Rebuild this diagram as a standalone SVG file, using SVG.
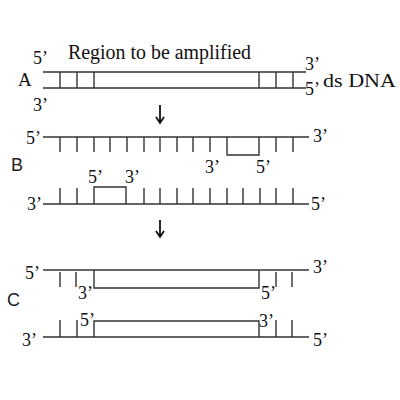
<svg xmlns="http://www.w3.org/2000/svg" width="400" height="400" viewBox="0 0 400 400">
<defs>
<style>
.s{stroke:#333;stroke-width:1.4;fill:none}
.t{font-family:"Liberation Serif",serif;font-size:18px;fill:#111}
.l{font-family:"Liberation Sans",sans-serif;font-size:18px;fill:#222}
.a{stroke:#111;stroke-width:1.8;fill:none}
</style>
</defs>
<rect width="400" height="400" fill="#fff"/>

<g id="sectionA">
<text class="t" x="68" y="59" textLength="183" lengthAdjust="spacingAndGlyphs" style="font-size:20px">Region to be amplified</text>
<text class="t" x="18" y="86" style="font-size:19px">A</text>
<text class="t" x="33" y="64">5’</text>
<text class="t" x="33" y="111">3’</text>
<text class="t" x="305" y="70">3’</text>
<text class="t" x="305" y="95">5’</text>
<text class="t" x="323" y="87" textLength="73" lengthAdjust="spacingAndGlyphs" style="font-size:19px">ds DNA</text>
<path class="s" d="M43,72H306M43,88H306M60,72V88M77,72V88M94,72V88M259,72V88M276,72V88M293,72V88"/>
</g>

<g id="sectionB">
<text class="l" x="11" y="171">B</text>
<text class="t" x="26" y="144">5’</text>
<text class="t" x="313" y="142">3’</text>
<text class="t" x="205" y="173">3’</text>
<text class="t" x="256" y="173">5’</text>
<path class="s" d="M43,137H309M60,137V152M77,137V152M94,137V152M110,137V152M127,137V152M144,137V152M160,137V152M177,137V152M193,137V152M210,137V152M276,137V152M293,137V152M227,137V155H259V137"/>
<text class="t" x="88" y="183">5’</text>
<text class="t" x="125" y="183">3’</text>
<text class="t" x="27" y="210">3’</text>
<text class="t" x="311" y="210">5’</text>
<path class="s" d="M43,204H309M60,188V204M77,188V204M144,188V204M160,188V204M177,188V204M193,188V204M210,188V204M227,188V204M243,188V204M260,188V204M276,188V204M293,188V204M94,204V187H126V204"/>
</g>

<g id="sectionC">
<text class="l" x="7" y="306">C</text>
<text class="t" x="25" y="279">5’</text>
<text class="t" x="313" y="273">3’</text>
<text class="t" x="78" y="299">3’</text>
<text class="t" x="261" y="299">5’</text>
<path class="s" d="M43,270H309M60,272V287M76,272V287M276,272V287M292,272V287M94,270V288H259V270"/>
<text class="t" x="80" y="326">5’</text>
<text class="t" x="259" y="327">3’</text>
<text class="t" x="22" y="346">3’</text>
<text class="t" x="313" y="346">5’</text>
<path class="s" d="M43,337H309M60,320V337M77,320V337M276,320V337M292,320V337M94,337V321H259V337"/>
</g>

<g id="connectors">
<path class="a" d="M160,105V123M156,117L160,123L164,117"/>
<path class="a" d="M160,220V237M156,231L160,237L164,231"/>
</g>
</svg>
